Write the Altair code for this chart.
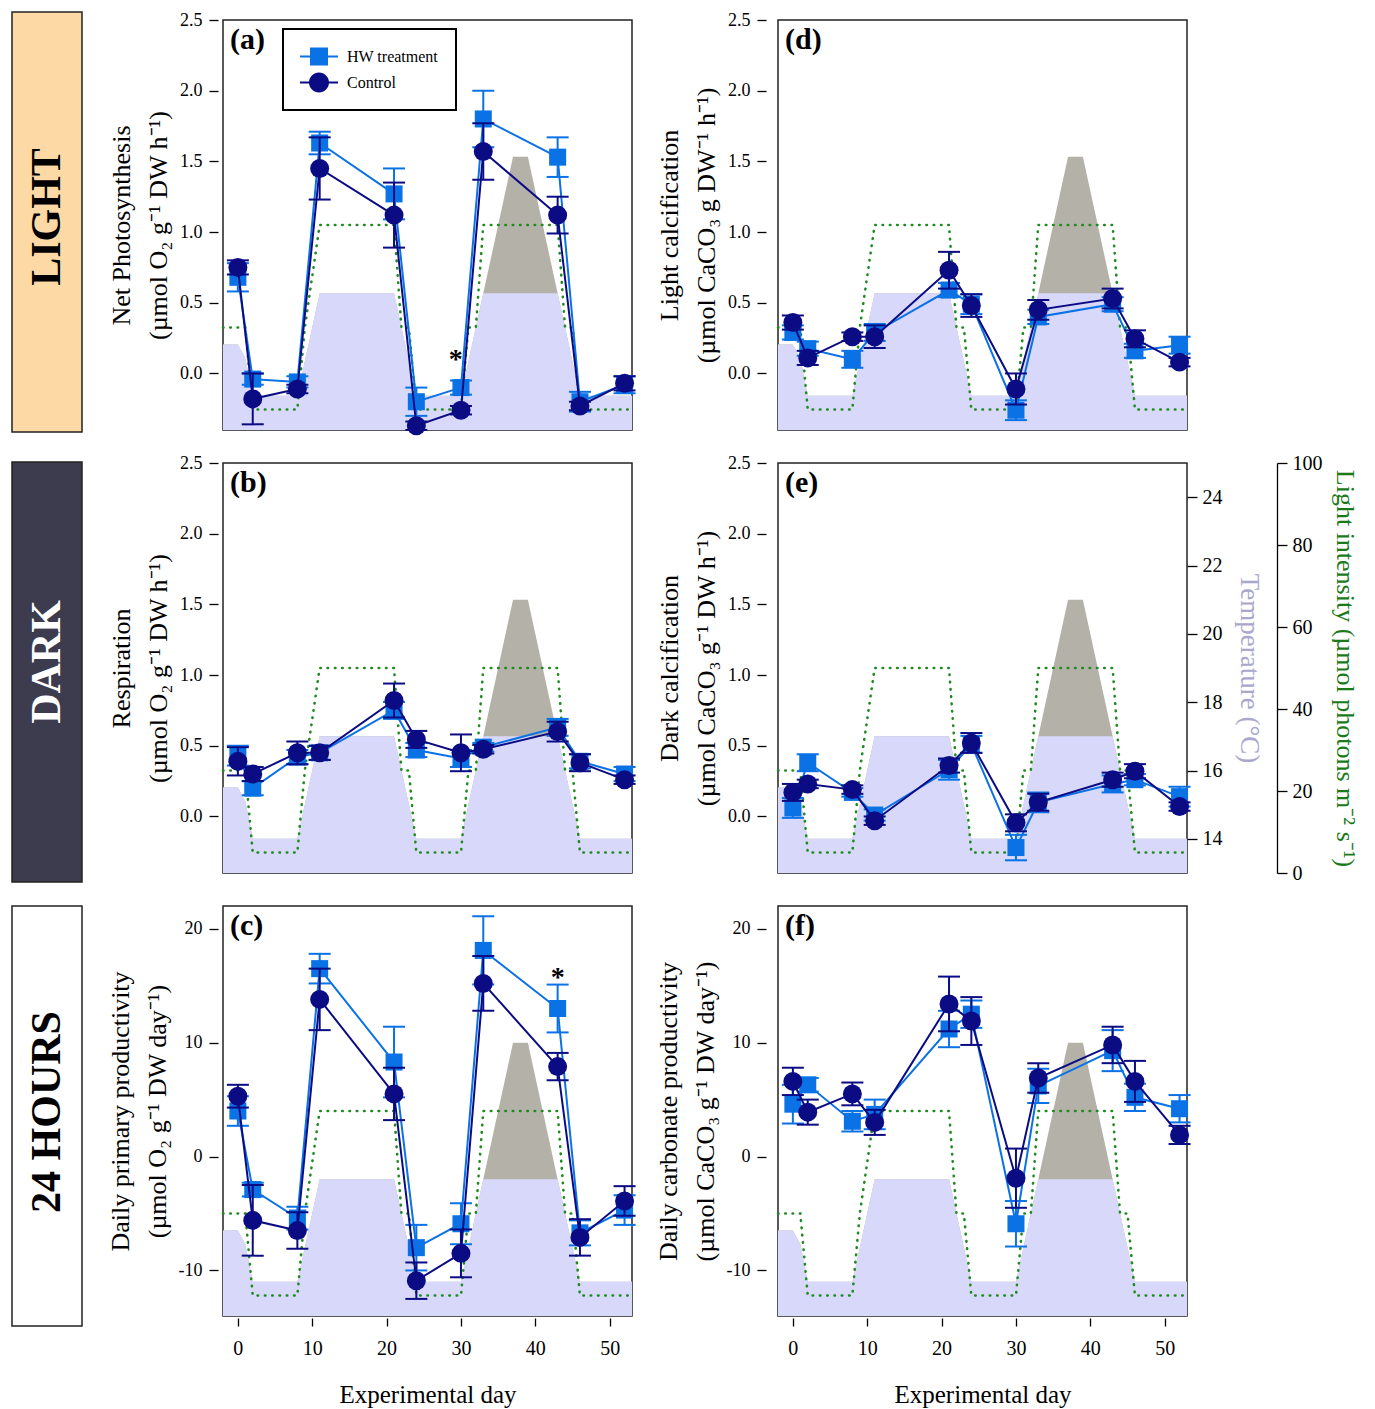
import altair as alt
import pandas as pd

FONT = "Liberation Serif"
HW_C = "#0b72e6"
CT_C = "#0b0b84"
LAV = "#d8d8fb"
GREY = "#b4b2a8"
GREEN = "#1f8a1f"
TEMP_T = "#a9a7cb"
LIGHT_T = "#1a7a1a"

days = [0, 2, 8, 11, 21, 24, 30, 33, 43, 46, 52]

# (a) Net photosynthesis
a_hw = [0.68, -0.04, -0.06, 1.63, 1.27, -0.20, -0.10, 1.80, 1.53, -0.20, -0.08]
a_hw_se = [0.10, 0.04, 0.04, 0.08, 0.18, 0.10, 0.05, 0.20, 0.14, 0.07, 0.06]
a_ct = [0.75, -0.18, -0.11, 1.45, 1.12, -0.37, -0.26, 1.57, 1.12, -0.23, -0.07]
a_ct_se = [0.05, 0.18, 0.03, 0.22, 0.23, 0.03, 0.03, 0.20, 0.13, 0.03, 0.05]
# (b) Respiration
b_hw = [0.43, 0.20, 0.42, 0.45, 0.75, 0.47, 0.41, 0.49, 0.63, 0.39, 0.30]
b_hw_se = [0.07, 0.05, 0.05, 0.05, 0.06, 0.05, 0.06, 0.03, 0.06, 0.05, 0.05]
b_ct = [0.39, 0.30, 0.45, 0.45, 0.82, 0.545, 0.45, 0.475, 0.60, 0.38, 0.26]
b_ct_se = [0.10, 0.05, 0.08, 0.05, 0.12, 0.06, 0.13, 0.03, 0.07, 0.06, 0.03]
# (c) Daily primary productivity
c_hw = [4.0, -2.9, -5.4, 16.5, 8.3, -8.0, -5.9, 18.1, 13.0, -6.7, -4.7]
c_hw_se = [1.3, 0.6, 1.0, 1.3, 3.1, 2.0, 1.8, 3.0, 2.1, 1.1, 1.3]
c_ct = [5.3, -5.6, -6.5, 13.8, 5.5, -10.9, -8.5, 15.2, 7.9, -7.1, -3.9]
c_ct_se = [1.0, 3.1, 1.6, 2.7, 2.3, 1.6, 2.1, 2.4, 1.2, 1.6, 1.3]
# (d) Light calcification
d_hw = [0.29, 0.175, 0.10, 0.29, 0.59, 0.49, -0.26, 0.40, 0.49, 0.16, 0.20]
d_hw_se = [0.05, 0.05, 0.06, 0.06, 0.05, 0.07, 0.07, 0.05, 0.05, 0.05, 0.06]
d_ct = [0.36, 0.11, 0.26, 0.26, 0.73, 0.48, -0.11, 0.45, 0.53, 0.245, 0.08]
d_ct_se = [0.05, 0.05, 0.03, 0.08, 0.13, 0.08, 0.11, 0.07, 0.07, 0.06, 0.03]
# (e) Dark calcification
e_hw = [0.06, 0.38, 0.17, 0.01, 0.33, 0.51, -0.22, 0.10, 0.23, 0.26, 0.14]
e_hw_se = [0.07, 0.06, 0.03, 0.04, 0.07, 0.06, 0.09, 0.07, 0.06, 0.04, 0.07]
e_ct = [0.17, 0.23, 0.19, -0.03, 0.36, 0.52, -0.045, 0.10, 0.26, 0.32, 0.07]
e_ct_se = [0.06, 0.03, 0.03, 0.03, 0.05, 0.07, 0.06, 0.06, 0.05, 0.05, 0.03]
# (f) Daily carbonate productivity
f_hw = [4.6, 6.3, 3.1, 3.7, 11.2, 12.5, -5.9, 6.2, 9.3, 5.2, 4.2]
f_hw_se = [1.7, 0.6, 0.9, 1.3, 1.6, 1.2, 2.0, 1.5, 1.8, 1.2, 1.2]
f_ct = [6.6, 3.9, 5.5, 3.0, 13.4, 11.9, -1.9, 6.9, 9.8, 6.6, 1.9]
f_ct_se = [1.2, 1.1, 1.0, 1.1, 2.4, 2.1, 2.6, 1.3, 1.6, 1.8, 0.8]

# temperature profiles (°C) and light intensity (µmol photons m-2 s-1)
temp_days = [-2, 0, 1, 2, 8, 11, 21, 24, 30, 33, 43, 46, 53]
temp_control = [15.5, 15.5, 15.1, 14.0, 14.0, 17.0, 17.0, 14.0, 14.0, 17.0, 17.0, 14.0, 14.0]
temp_hw_days = [-2, 0, 1, 2, 8, 11, 21, 24, 30, 33, 37, 39, 43, 46, 53]
temp_hw = [15.5, 15.5, 15.1, 14.0, 14.0, 17.0, 17.0, 14.0, 14.0, 17.0, 21.0, 21.0, 17.0, 14.0, 14.0]
light_days = [-2, 1, 2, 8, 9, 11, 21, 22, 23, 24, 30, 31, 32, 33, 43, 44, 45, 46, 53]
light_values = [25, 25, 5, 5, 25, 50, 50, 25, 25, 5, 5, 25, 25, 50, 50, 25, 25, 5, 5]

series_names = ["HW treatment", "Control"]
x_ticks = [0, 10, 20, 30, 40, 50]
temp_ticks = [14, 16, 18, 20, 22, 24]
light_ticks = [0, 20, 40, 60, 80, 100]

XDOM = [-2, 53]
W, H = 409, 410

temp_df = pd.DataFrame({"day": temp_days, "temp": temp_control})
temp_hw_df = pd.DataFrame({"day": temp_hw_days, "temp": temp_hw})
light_df = pd.DataFrame({"day": light_days, "light": light_values})

X_AXIS = alt.Axis(values=x_ticks, title="Experimental day", tickSize=8, offset=2,
                  domain=False, grid=False, labelFontSize=20, titleFontSize=25,
                  labelPadding=12, titlePadding=24, tickColor="black", tickWidth=1.3,
                  labelColor="black", titleColor="black", labelFont=FONT,
                  titleFont=FONT, titleFontWeight="normal")


def make_xenc(show):
    def xenc():
        sc = alt.Scale(domain=XDOM, nice=False, zero=False)
        return alt.X("day:Q", scale=sc, axis=X_AXIS if show else None)
    return xenc


SQ_PATH = "M-1.05,-0.1H2.75V0.1H-1.05Z M-0.05,-0.9H1.75V0.9H-0.05Z"
CI_PATH = "M-1.05,-0.1H2.75V0.1H-1.05Z M-0.15,0A1,1 0 1,1 1.85,0A1,1 0 1,1 -0.15,0Z"


def panel(hw, hwe, ct, cte, ydom, yticks, ytitle, letter, col, show_x=False,
          star=None, legend=False, right_axes=False, int_labels=False):
    xenc = make_xenc(show_x)
    yax_kw = dict(values=yticks, title=ytitle, tickSize=9, offset=5 if col == 0 else 12,
                  domain=False, grid=False, labelFontSize=18, titleFontSize=26,
                  labelPadding=7, titlePadding=8, titleLineHeight=37,
                  tickColor="black", tickWidth=1.3, labelColor="black",
                  titleColor="black", labelFont=FONT, titleFont=FONT,
                  titleFontWeight="normal")
    if int_labels:
        yax_kw["labelExpr"] = "datum.value + ''"
    else:
        yax_kw["format"] = ".1f"
    yax = alt.Axis(**yax_kw)

    def ys():
        return alt.Scale(domain=ydom, nice=False, zero=False)

    def tsc():
        return alt.Scale(domain=[13, 25], nice=False, zero=False)

    if right_axes:
        tax = alt.Axis(orient="right", values=temp_ticks, title="Temperature (°C)",
                       tickSize=10, domain=False, grid=False, labelFontSize=20,
                       titleFontSize=27, labelPadding=5, titlePadding=12,
                       tickColor="black", tickWidth=1.3, labelColor="black",
                       titleColor=TEMP_T, labelFont=FONT, titleFont=FONT,
                       titleFontWeight="normal")
        lax = alt.Axis(orient="right", offset=90, values=light_ticks,
                       title="Light intensity (µmol photons m⁻² s⁻¹)",
                       tickSize=10, domain=True, domainColor="black", domainWidth=1.3,
                       grid=False, labelFontSize=20, titleFontSize=26, labelPadding=5,
                       titlePadding=9, tickColor="black", tickWidth=1.3,
                       labelColor="black", titleColor=LIGHT_T, labelFont=FONT,
                       titleFont=FONT, titleFontWeight="normal")
    else:
        tax = None
        lax = None

    layers = []
    layers.append(alt.Chart(temp_hw_df).mark_area(color=GREY, opacity=1).encode(
        x=xenc(), y=alt.Y("temp:Q", scale=tsc(), axis=None), y2=alt.datum(13)))
    layers.append(alt.Chart(temp_df).mark_area(color=LAV, opacity=1).encode(
        x=xenc(), y=alt.Y("temp:Q", scale=tsc(), axis=tax), y2=alt.datum(13)))
    layers.append(alt.Chart(light_df).mark_line(color=GREEN, strokeDash=[0.5, 6.8],
                                                strokeCap="round", strokeWidth=2.6).encode(
        x=xenc(), y=alt.Y("light:Q", scale=alt.Scale(domain=[0, 100], nice=False), axis=lax)))

    first = True
    for vals, errs, color, shape, size in [(hw, hwe, HW_C, "square", 290),
                                           (ct, cte, CT_C, "circle", 360)]:
        lo = [v - e for v, e in zip(vals, errs)]
        hi = [v + e for v, e in zip(vals, errs)]
        df = pd.DataFrame({"day": days, "value": vals, "lo": lo, "hi": hi})
        caps = pd.DataFrame({"day": days + days, "value": lo + hi})
        line = alt.Chart(df).mark_line(color=color, strokeWidth=2).encode(
            x=xenc(), y=alt.Y("value:Q", scale=ys(), axis=yax if first else None))
        rule = alt.Chart(df).mark_rule(color=color, strokeWidth=2).encode(
            x=xenc(), y=alt.Y("lo:Q", scale=ys(), axis=None), y2="hi:Q")
        cap = alt.Chart(caps).mark_tick(color=color, orient="horizontal", size=22,
                                        thickness=2, opacity=1).encode(
            x=xenc(), y=alt.Y("value:Q", scale=ys(), axis=None))
        pts = alt.Chart(df).mark_point(shape=shape, filled=True, size=size, color=color,
                                       opacity=1).encode(
            x=xenc(), y=alt.Y("value:Q", scale=ys(), axis=None))
        layers += [line, rule, cap, pts]
        first = False

    if star is not None:
        sdf = pd.DataFrame({"day": [star[0]], "value": [star[1]], "t": ["*"]})
        layers.append(alt.Chart(sdf).mark_text(font=FONT, fontSize=28, fontWeight="bold",
                                                color="black", baseline="middle", dy=4).encode(
            x=xenc(), y=alt.Y("value:Q", scale=ys(), axis=None), text="t:N"))

    if legend:
        ldf = pd.DataFrame({"series": series_names, "day": [0, 0], "value": [0.0, 0.0]})
        lg = dict(title=None, orient="none", legendX=60, legendY=9, padding=17.5,
                  strokeColor="black", fillColor="white", rowPadding=7, labelOffset=26.5,
                  labelFontSize=16, labelFont=FONT, labelColor="black", symbolSize=400,
                  symbolStrokeWidth=0, symbolOpacity=1)
        layers.append(alt.Chart(ldf).mark_point(filled=True, opacity=0).encode(
            x=xenc(), y=alt.Y("value:Q", scale=ys(), axis=None),
            color=alt.Color("series:N", scale=alt.Scale(domain=series_names, range=[HW_C, CT_C]),
                            legend=alt.Legend(**lg)),
            shape=alt.Shape("series:N", scale=alt.Scale(domain=series_names, range=[SQ_PATH, CI_PATH]),
                            legend=alt.Legend(**lg))))

    layers.append(alt.Chart(pd.DataFrame({"t": [letter]})).mark_text(
        align="left", baseline="top", font=FONT, fontSize=30, fontWeight="bold",
        color="black").encode(x=alt.value(7), y=alt.value(5), text="t:N"))

    return alt.layer(*layers).resolve_scale(y="independent").properties(width=W, height=H)


def side(text, fill, tcolor, y0, y1, ty):
    d = pd.DataFrame({"t": [text]})
    box = alt.Chart(d).mark_rect(fill=fill, stroke="#222222", strokeWidth=1.5).encode(
        x=alt.value(0), x2=alt.value(70), y=alt.value(y0), y2=alt.value(y1))
    txt = alt.Chart(d).mark_text(angle=270, font=FONT, fontSize=42, fontWeight="bold",
                                 color=tcolor, align="center", baseline="middle").encode(
        x=alt.value(35), y=alt.value(ty), text="t:N")
    return alt.layer(box, txt).properties(width=65, height=H,
                                          view=alt.ViewBackground(stroke="transparent"))


pa = panel(a_hw, a_hw_se, a_ct, a_ct_se, [-0.4, 2.5], [0, 0.5, 1.0, 1.5, 2.0, 2.5],
           ["Net Photosynthesis", "(µmol O₂ g⁻¹ DW h⁻¹)"], "(a)", 0,
           star=(29.3, 0.12), legend=True)
pd_ = panel(d_hw, d_hw_se, d_ct, d_ct_se, [-0.4, 2.5], [0, 0.5, 1.0, 1.5, 2.0, 2.5],
            ["Light calcification", "(µmol CaCO₃ g DW⁻¹ h⁻¹)"], "(d)", 1)
pb = panel(b_hw, b_hw_se, b_ct, b_ct_se, [-0.4, 2.5], [0, 0.5, 1.0, 1.5, 2.0, 2.5],
           ["Respiration", "(µmol O₂ g⁻¹ DW h⁻¹)"], "(b)", 0)
pe = panel(e_hw, e_hw_se, e_ct, e_ct_se, [-0.4, 2.5], [0, 0.5, 1.0, 1.5, 2.0, 2.5],
           ["Dark calcification", "(µmol CaCO₃ g⁻¹ DW h⁻¹)"], "(e)", 1, right_axes=True)
pc = panel(c_hw, c_hw_se, c_ct, c_ct_se, [-14, 22], [-10, 0, 10, 20],
           ["Daily primary productivity", "(µmol O₂ g⁻¹ DW day⁻¹)"], "(c)", 0,
           show_x=True, star=(43, 16.0), int_labels=True)
pf = panel(f_hw, f_hw_se, f_ct, f_ct_se, [-14, 22], [-10, 0, 10, 20],
           ["Daily carbonate productivity", "(µmol CaCO₃ g⁻¹ DW day⁻¹)"], "(f)", 1,
           show_x=True, int_labels=True)

s1 = side("LIGHT", "#fdd9a6", "black", -8, 412, 197)
s2 = side("DARK", "#3d3b4e", "white", -1, 419, 199)
s3 = side("24 HOURS", "white", "black", 0, 420, 206)

chart = alt.concat(s1, pa, pd_, s2, pb, pe, s3, pc, pf, columns=3,
                   spacing={"row": 33, "column": 146}, bounds="flush").resolve_scale(
    color="independent", shape="independent"
).properties(
    padding={"left": 10, "top": 10, "right": 0, "bottom": 0}
).configure_view(stroke="#222222", strokeWidth=1.5).configure_legend(strokeWidth=2)

chart.save("out.html", embed_options={"renderer": "svg", "actions": False})
